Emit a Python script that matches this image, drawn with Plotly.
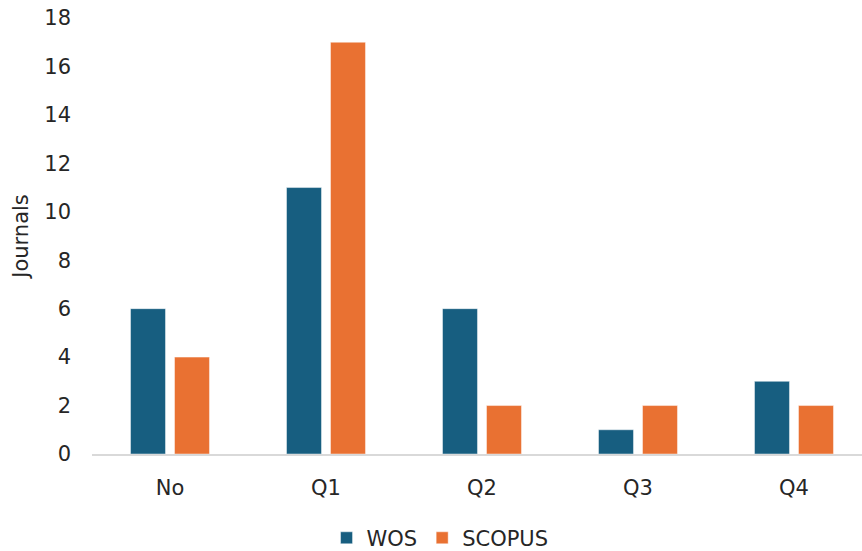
import plotly.graph_objects as go

categories = ["No", "Q1", "Q2", "Q3", "Q4"]
wos = [6, 11, 6, 1, 3]
scopus = [4, 17, 2, 2, 2]
y_ticks = [0, 2, 4, 6, 8, 10, 12, 14, 16, 18]

FONT = "DejaVu Sans, sans-serif"
TEXT = "#262626"
SIZE = 21

fig = go.Figure()
fig.add_trace(go.Bar(
    name="WOS", x=categories, y=wos,
    marker=dict(color="#175E80", line=dict(color="rgba(255,255,255,0.45)", width=1)),
))
fig.add_trace(go.Bar(
    name="SCOPUS", x=categories, y=scopus,
    marker=dict(color="#E97132", line=dict(color="rgba(255,255,255,0.45)", width=1)),
))

fig.update_layout(
    width=862, height=551,
    margin=dict(l=92, r=0, t=18, b=97, autoexpand=False),
    paper_bgcolor="white", plot_bgcolor="white",
    barmode="group", bargap=0.436, bargroupgap=0.205,
    font=dict(family=FONT, size=SIZE, color=TEXT),
    showlegend=True,
    legend=dict(orientation="h", x=0.452, xanchor="center", y=-0.193, yanchor="middle",
                font=dict(family=FONT, size=SIZE, color=TEXT), itemwidth=30,
                traceorder="normal"),
    xaxis=dict(
        range=[-0.5, 4.436], showgrid=False, zeroline=False,
        showline=True, linecolor="#D9D9D9", linewidth=1.5,
        ticks="", ticklabelstandoff=14,
        tickfont=dict(family=FONT, size=SIZE, color=TEXT),
    ),
    yaxis=dict(
        range=[0, 18], tickvals=y_ticks, showgrid=False, zeroline=False,
        showline=False, ticks="", ticklabelstandoff=20,
        tickfont=dict(family=FONT, size=SIZE, color=TEXT),
        title=dict(text="Journals", font=dict(family=FONT, size=SIZE, color=TEXT), standoff=9),
    ),
)

fig.write_html("out.html")
